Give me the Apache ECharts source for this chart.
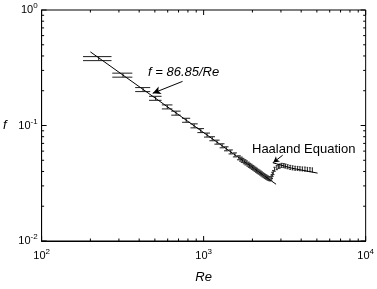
<!DOCTYPE html>
<html>
<head>
<meta charset="utf-8">
<script src="https://cdn.jsdelivr.net/npm/echarts@6/dist/echarts.min.js"></script>
<style>
  html, body { margin: 0; padding: 0; background: #fff; }
  #chart { width: 377px; height: 289px; }
</style>
</head>
<body>
<div id="chart"></div>
<script>
const reData = [225, 318, 423, 505, 597, 676, 781, 874, 960, 1050, 1130, 1210, 1300, 1380,
  1470, 1560, 1650, 1700, 1740, 1790, 1830, 1880, 1920, 1960, 2000, 2040, 2080, 2120, 2160,
  2200, 2240, 2280, 2320, 2360, 2400, 2440, 2480, 2520, 2563,
  2610, 2636, 2660, 2690, 2740, 2828, 2900, 2950, 3030, 3120, 3200, 3300, 3420, 3540, 3670,
  3800, 3930, 4070, 4220, 4370, 4530, 4690]
const fData = [0.380, 0.273, 0.205, 0.172, 0.145, 0.128, 0.111, 0.0994, 0.0905, 0.0827, 0.0769,
  0.0718, 0.0668, 0.0629, 0.0591, 0.0557, 0.0526, 0.0512, 0.0499, 0.0486, 0.0475, 0.0463,
  0.0452, 0.0444, 0.0434, 0.0427, 0.0418, 0.0410, 0.0402, 0.0395, 0.0388, 0.0381, 0.0374,
  0.0368, 0.0362, 0.0357, 0.0352, 0.0348, 0.0345,
  0.0350, 0.0362, 0.0378, 0.0392, 0.0418, 0.0432, 0.0442, 0.0446, 0.0452, 0.0450, 0.0446,
  0.0440, 0.0434, 0.0430, 0.0427, 0.0425, 0.0423, 0.0421, 0.0419, 0.0417, 0.0415, 0.0413]
const errFrac = 0.04 // relative error bar half height
const capHalf = 45 // cap half width (Re units)

// f = 86.85/Re line end points
const lamRe = [200, 2800]
const lamF = [0.434, 0.031]
// Haaland equation curve
const haaRe = [2670, 3500, 5050]
const haaF = [0.0476, 0.0427, 0.0387]

const xMajor = [100, 1000, 10000]
const xMinor = [200, 300, 400, 500, 600, 700, 800, 900, 2000, 3000, 4000, 5000, 6000, 7000, 8000, 9000]
const yMajor = [0.01, 0.1, 1]
const yMinor = [0.02, 0.03, 0.04, 0.05, 0.06, 0.07, 0.08, 0.09, 0.2, 0.3, 0.4, 0.5, 0.6, 0.7, 0.8, 0.9]

const chart = echarts.init(document.getElementById('chart'))

const FONT = 'Liberation Sans'
const pow10 = v => {
  const e = Math.round(Math.log10(v))
  return '{b|10}{s|' + e + '}'
}

// tick marks on all four sides, inside the box
let ticks = []
xMajor.forEach(v => ticks.push([v, 0, 5]))
xMinor.forEach(v => ticks.push([v, 0, 2.5]))
yMajor.forEach(v => ticks.push([v, 1, 5]))
yMinor.forEach(v => ticks.push([v, 1, 2.5]))

const option = {
  animation: false,
  grid: { left: 39, right: 10, top: 10, bottom: 42, show: true, borderColor: '#000', borderWidth: 1 },
  xAxis: {
    type: 'log', min: 100, max: 10000, logBase: 10,
    name: 'Re', nameLocation: 'middle', nameGap: 30,
    nameTextStyle: { fontFamily: FONT, fontStyle: 'italic', fontSize: 13, color: '#000' },
    axisLine: { lineStyle: { color: '#000' } },
    axisTick: { show: false },
    splitLine: { show: false },
    axisLabel: {
      margin: 7, color: '#000', fontFamily: FONT,
      formatter: pow10,
      rich: {
        b: { fontSize: 11, lineHeight: 16, fontFamily: FONT, color: '#000' },
        s: { fontSize: 8, lineHeight: 7, verticalAlign: 'top', fontFamily: FONT, color: '#000' }
      }
    }
  },
  yAxis: {
    type: 'log', min: 0.01, max: 1, logBase: 10,
    name: 'f', nameLocation: 'middle', nameGap: 35, nameRotate: 0,
    nameTextStyle: { fontFamily: FONT, fontStyle: 'italic', fontSize: 13, color: '#000' },
    axisLine: { lineStyle: { color: '#000' } },
    axisTick: { show: false },
    splitLine: { show: false },
    axisLabel: {
      margin: 4, color: '#000', fontFamily: FONT,
      formatter: pow10,
      rich: {
        b: { fontSize: 11, lineHeight: 16, fontFamily: FONT, color: '#000' },
        s: { fontSize: 8, lineHeight: 7, verticalAlign: 'top', fontFamily: FONT, color: '#000' }
      }
    }
  },
  graphic: [
    { type: 'text', left: 148, top: 66, style: { text: 'f = 86.85/Re', font: 'italic 13px "Liberation Sans"', fill: '#000' } },
    { type: 'text', left: 252, top: 143, style: { text: 'Haaland Equation', font: '13px "Liberation Sans"', fill: '#000' } }
  ],
  series: [
    {
      type: 'line',
      data: lamRe.map((r, i) => [r, lamF[i]]),
      symbol: 'none',
      lineStyle: { color: '#000', width: 1 },
      markLine: {
        silent: true, symbol: ['none', 'arrow'], symbolSize: [6, 8],
        lineStyle: { color: '#000', width: 1, type: 'solid' },
        label: { show: false },
        data: [[{ coord: [741, 0.241] }, { coord: [485, 0.19] }]]
      }
    },
    {
      type: 'line',
      data: haaRe.map((r, i) => [r, haaF[i]]),
      symbol: 'none',
      lineStyle: { color: '#000', width: 1 },
      markLine: {
        silent: true, symbol: ['none', 'arrow'], symbolSize: [5, 6],
        lineStyle: { color: '#000', width: 1, type: 'solid' },
        label: { show: false },
        data: [[{ coord: [3076, 0.0553] }, { coord: [2690, 0.0478] }]]
      }
    },
    {
      type: 'custom',
      data: reData.map((r, i) => [r, fData[i]]),
      renderItem: (params, api) => {
        const re = api.value(0)
        const f = api.value(1)
        const lo = f * (1 - errFrac)
        const hi = f * (1 + errFrac)
        const pLo = api.coord([re, lo])
        const pHi = api.coord([re, hi])
        const l1 = api.coord([re - capHalf, lo])
        const r1 = api.coord([re + capHalf, lo])
        const l2 = api.coord([re - capHalf, hi])
        const r2 = api.coord([re + capHalf, hi])
        const st = { stroke: '#333', lineWidth: 1.1 }
        return {
          type: 'group',
          children: [
            { type: 'line', shape: { x1: pLo[0], y1: pLo[1], x2: pHi[0], y2: pHi[1] }, style: st },
            { type: 'line', shape: { x1: l1[0], y1: l1[1], x2: r1[0], y2: r1[1] }, style: st },
            { type: 'line', shape: { x1: l2[0], y1: l2[1], x2: r2[0], y2: r2[1] }, style: st }
          ]
        }
      },
      z: 3
    },
    {
      type: 'custom',
      data: ticks,
      clip: false,
      silent: true,
      renderItem: (params, api) => {
        const v = api.value(0)
        const isY = api.value(1) === 1
        const len = api.value(2)
        const st = { stroke: '#000', lineWidth: 1 }
        let a, b
        if (!isY) {
          a = api.coord([v, 0.01])
          b = api.coord([v, 1])
          return {
            type: 'group', children: [
              { type: 'line', shape: { x1: a[0], y1: a[1], x2: a[0], y2: a[1] - len }, style: st },
              { type: 'line', shape: { x1: b[0], y1: b[1], x2: b[0], y2: b[1] + len }, style: st }
            ]
          }
        }
        a = api.coord([100, v])
        b = api.coord([10000, v])
        return {
          type: 'group', children: [
            { type: 'line', shape: { x1: a[0], y1: a[1], x2: a[0] + len, y2: a[1] }, style: st },
            { type: 'line', shape: { x1: b[0], y1: b[1], x2: b[0] - len, y2: b[1] }, style: st }
          ]
        }
      }
    }
  ]
}

chart.setOption(option)
</script>
</body>
</html>
